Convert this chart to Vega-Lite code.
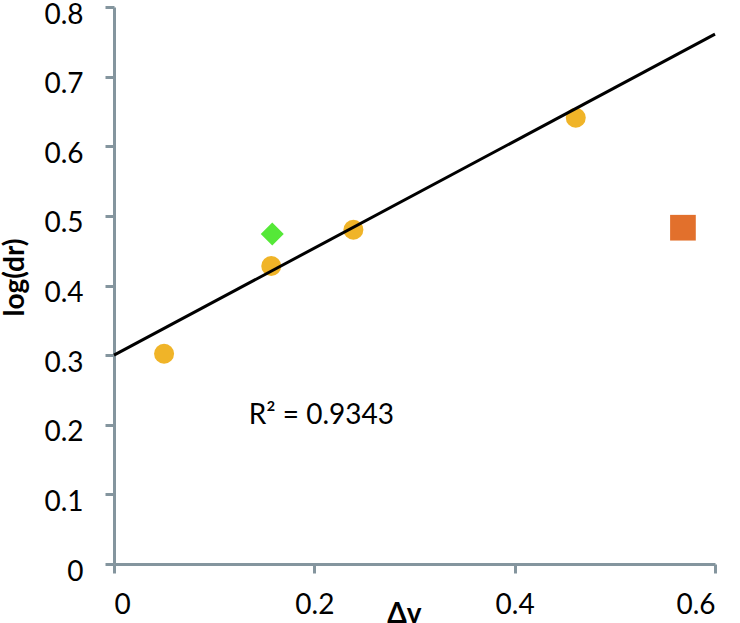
{
  "$schema": "https://vega.github.io/schema/vega-lite/v6.json",
  "width": 601,
  "height": 557,
  "autosize": {"type": "none"},
  "padding": {"left": 114, "top": 7, "right": 25, "bottom": 59},
  "background": "white",
  "config": {
    "view": {"stroke": null},
    "font": "Lato",
    "axis": {
      "grid": false,
      "domainColor": "#84959E",
      "domainWidth": 3,
      "tickColor": "#84959E",
      "tickWidth": 3,
      "tickSize": 9,
      "labelFont": "Lato",
      "labelFontSize": 28,
      "labelColor": "black",
      "titleFont": "Lato",
      "titleFontSize": 28,
      "titleFontWeight": "bold",
      "titleColor": "black"
    }
  },
  "layer": [
    {
      "data": {
        "values": [
          {"dv": 0.050, "logdr": 0.302, "series": "a"},
          {"dv": 0.157, "logdr": 0.428, "series": "a"},
          {"dv": 0.239, "logdr": 0.480, "series": "a"},
          {"dv": 0.461, "logdr": 0.641, "series": "a"},
          {"dv": 0.158, "logdr": 0.474, "series": "b"},
          {"dv": 0.568, "logdr": 0.483, "series": "c"}
        ]
      },
      "mark": {"type": "point", "filled": true, "opacity": 1},
      "encoding": {
        "x": {
          "field": "dv", "type": "quantitative",
          "scale": {"domain": [0, 0.6], "nice": false, "zero": true},
          "axis": {
            "values": [0, 0.2, 0.4, 0.6], "format": "~g",
            "title": "Δv", "labelPadding": 18,
            "titleX": 290, "titleY": 58, "titleBaseline": "alphabetic", "titleAlign": "center"
          }
        },
        "y": {
          "field": "logdr", "type": "quantitative",
          "scale": {"domain": [0, 0.8], "nice": false},
          "axis": {
            "values": [0, 0.1, 0.2, 0.3, 0.4, 0.5, 0.6, 0.7, 0.8], "format": "~g",
            "title": "log(dr)", "labelPadding": 22, "labelOffset": 8,
            "titleX": -99, "titleY": 270, "titleBaseline": "middle", "titleAlign": "center", "titleAngle": -90
          }
        },
        "shape": {
          "field": "series", "type": "nominal",
          "scale": {"domain": ["a", "b", "c"], "range": ["circle", "diamond", "square"]},
          "legend": null
        },
        "color": {
          "field": "series", "type": "nominal",
          "scale": {"domain": ["a", "b", "c"], "range": ["#F0B428", "#55E838", "#E2702C"]},
          "legend": null
        },
        "size": {
          "field": "series", "type": "nominal",
          "scale": {"domain": ["a", "b", "c"], "range": [400, 660, 480]},
          "legend": null
        }
      }
    },
    {
      "data": {"values": [{"dv": 0, "logdr": 0.300}, {"dv": 0.6, "logdr": 0.761}]},
      "mark": {"type": "line", "color": "black", "strokeWidth": 3},
      "encoding": {
        "x": {"field": "dv", "type": "quantitative"},
        "y": {"field": "logdr", "type": "quantitative"}
      }
    },
    {
      "data": {"values": [{"dv": 0.207, "logdr": 0.213, "label": "R² = 0.9343"}]},
      "mark": {"type": "text", "fontSize": 28, "font": "Lato", "color": "black", "align": "center", "baseline": "middle"},
      "encoding": {
        "x": {"field": "dv", "type": "quantitative"},
        "y": {"field": "logdr", "type": "quantitative"},
        "text": {"field": "label"}
      }
    }
  ]
}
